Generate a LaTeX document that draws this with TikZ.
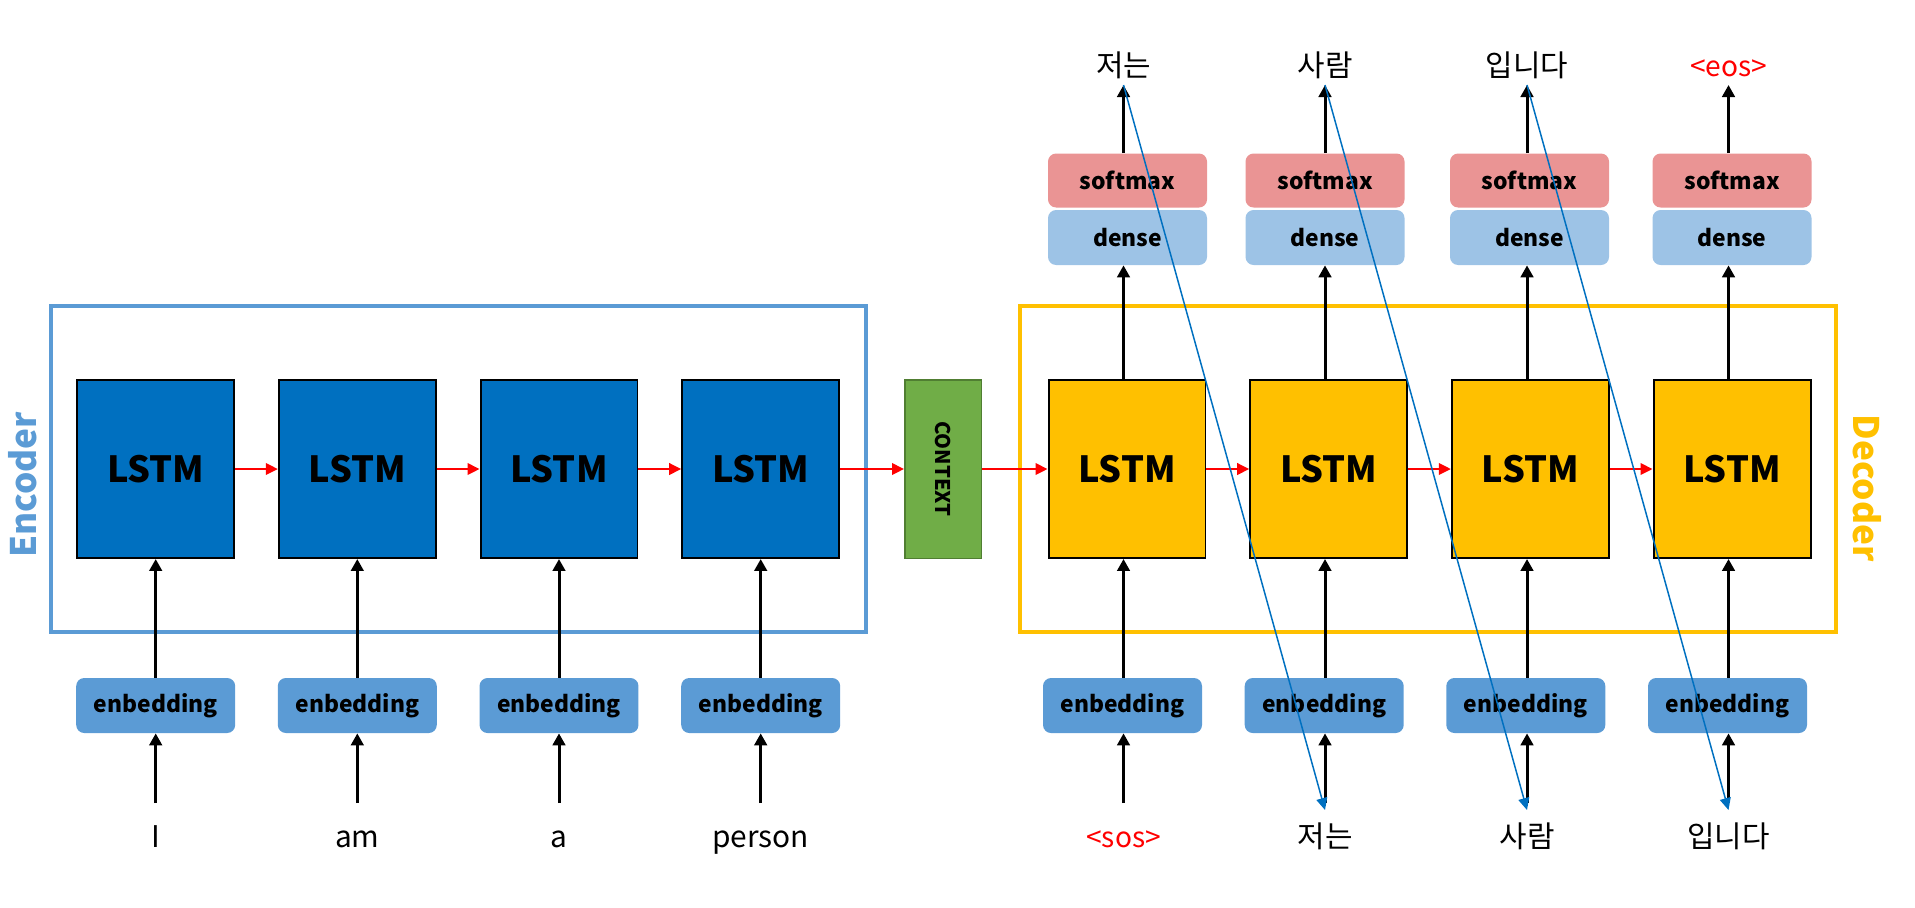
\documentclass[tikz,border=0pt]{standalone}
\usepackage{fontspec}
\setmainfont{Noto Sans CJK KR}
\usetikzlibrary{arrows.meta}
\definecolor{encblue}{HTML}{5B9BD5}
\definecolor{lstmblue}{HTML}{0070C0}
\definecolor{embblue}{HTML}{5B9BD5}
\definecolor{densebl}{HTML}{9DC3E6}
\definecolor{softred}{HTML}{EA9494}
\definecolor{decyel}{HTML}{FFC000}
\definecolor{ctxgreen}{HTML}{70AD47}
\definecolor{ctxborder}{HTML}{507E32}
\definecolor{linkblue}{HTML}{0070C0}
\begin{document}
\begin{tikzpicture}[x=0.02cm,y=-0.02cm,
  lstmbox/.style={draw=black,line width=1.13pt,minimum width=3.14cm,minimum height=3.56cm,inner sep=0pt,font=\fontsize{20.5}{24}\selectfont\bfseries},
  enclstm/.style={lstmbox,fill=lstmblue},
  declstm/.style={lstmbox,fill=decyel},
  roundbox/.style={rounded corners=0.16cm,minimum width=3.18cm,inner sep=0pt,font=\fontsize{13}{15}\selectfont\bfseries},
  embbox/.style={roundbox,fill=embblue,minimum height=1.1cm},
  softbox/.style={roundbox,fill=softred,minimum height=1.08cm},
  densebox/.style={roundbox,fill=densebl,minimum height=1.1cm},
  word/.style={anchor=base,inner sep=0pt,font=\fontsize{17}{20}\selectfont},
  tok/.style={anchor=base,inner sep=0pt,text=red,font=\fontsize{16}{19}\selectfont},
  arr/.style={line width=1.7pt,-{Triangle[length=0.24cm,width=0.25cm]}},
  redarr/.style={red,line width=1.13pt,-{Triangle[length=0.24cm,width=0.23cm]}},
  bluearr/.style={linkblue,line width=0.85pt,-{Triangle[length=0.24cm,width=0.22cm]}},
  frame/.style={line width=2.27pt,inner sep=0pt,minimum height=6.53cm},
  sidelabel/.style={inner sep=0pt,font=\fontsize{20}{24}\selectfont\bfseries}
]
\useasboundingbox (0,0) rectangle (1915,907);

% frames
\node[frame,draw=encblue,minimum width=16.31cm] (encframe) at (458.25,468.75) {};
\node[frame,draw=decyel,minimum width=16.34cm] (decframe) at (1428,468.75) {};
\node[sidelabel,rotate=90,text=encblue] (enclabel) at (23,485) {Encoder};
\node[sidelabel,rotate=-90,text=decyel] (declabel) at (1867,488) {Decoder};

% encoder
\foreach \i/\x/\w in {1/155.7/I, 2/357.3/am, 3/559/a, 4/760.7/person} {
  \node[enclstm] (el\i) at (\x,469) {LSTM};
  \node[embbox] (ee\i) at (\x,705.5) {enbedding};
  \node[word] (ew\i) at (\x,847) {\w};
  \coordinate (es\i) at (\x,803);
  \draw[arr] (es\i) -- (ee\i.south);
  \draw[arr] (ee\i.north) -- (el\i.south);
}
\foreach \i/\j in {1/2,2/3,3/4} {
  \draw[redarr] (el\i.east) -- (el\j.west);
}

% context
\node[fill=ctxgreen,draw=ctxborder,line width=0.85pt,minimum width=1.53cm,minimum height=3.57cm,inner sep=0pt] (ctx) at (943,469) {};
\node[rotate=-90,inner sep=0pt,font=\fontsize{11.5}{13}\selectfont\bfseries] (ctxlabel) at (ctx.center) {CONTEXT};
\draw[redarr] (el4.east) -- (ctx.west);

% decoder columns
\foreach \i/\dx/\lx/\sx/\ex in {1/1123.5/1127/1127.5/1122.5, 2/1325/1328.7/1325/1324.2, 3/1527/1530.3/1529.5/1525.8, 4/1728.5/1732/1732/1727.5} {
  \coordinate (dcol\i) at (\dx,0);
  \node[declstm] (dl\i) at (\lx,469) {LSTM};
  \node[embbox] (de\i) at (\ex,705.5) {enbedding};
  \node[softbox] (ds\i) at (\sx,180.5) {softmax};
  \node[densebox] (dd\i) at (\sx,237.5) {dense};
  \coordinate (dt\i) at (\dx,85);
  \coordinate (db\i) at (\dx,810);
  \coordinate (dsrc\i) at (\dx,803);
  \draw[arr] (dsrc\i) -- (de\i.south -| dcol\i);
  \draw[arr] (de\i.north -| dcol\i) -- (dl\i.south -| dcol\i);
  \draw[arr] (dl\i.north -| dcol\i) -- (dd\i.south -| dcol\i);
  \draw[arr] (ds\i.north -| dcol\i) -- (dt\i);
}
\draw[redarr] (ctx.east) -- (dl1.west);
\foreach \i/\j in {1/2,2/3,3/4} {
  \draw[redarr] (dl\i.east) -- (dl\j.west);
}

% decoder words
\node[word] (top1) at (1123.5,76) {저는};
\node[word] (top2) at (1325,76) {사람};
\node[word] (top3) at (1527,76) {입니다};
\node[tok] (top4) at (1728.5,76) {<eos>};
\node[tok] (bot1) at (1123.5,847) {<sos>};
\node[word] (bot2) at (1325,847) {저는};
\node[word] (bot3) at (1527,847) {사람};
\node[word] (bot4) at (1728.5,847) {입니다};

% feedback links
\foreach \i/\j in {1/2,2/3,3/4} {
  \draw[bluearr] (dt\i) -- (db\j);
}
\end{tikzpicture}
\end{document}
